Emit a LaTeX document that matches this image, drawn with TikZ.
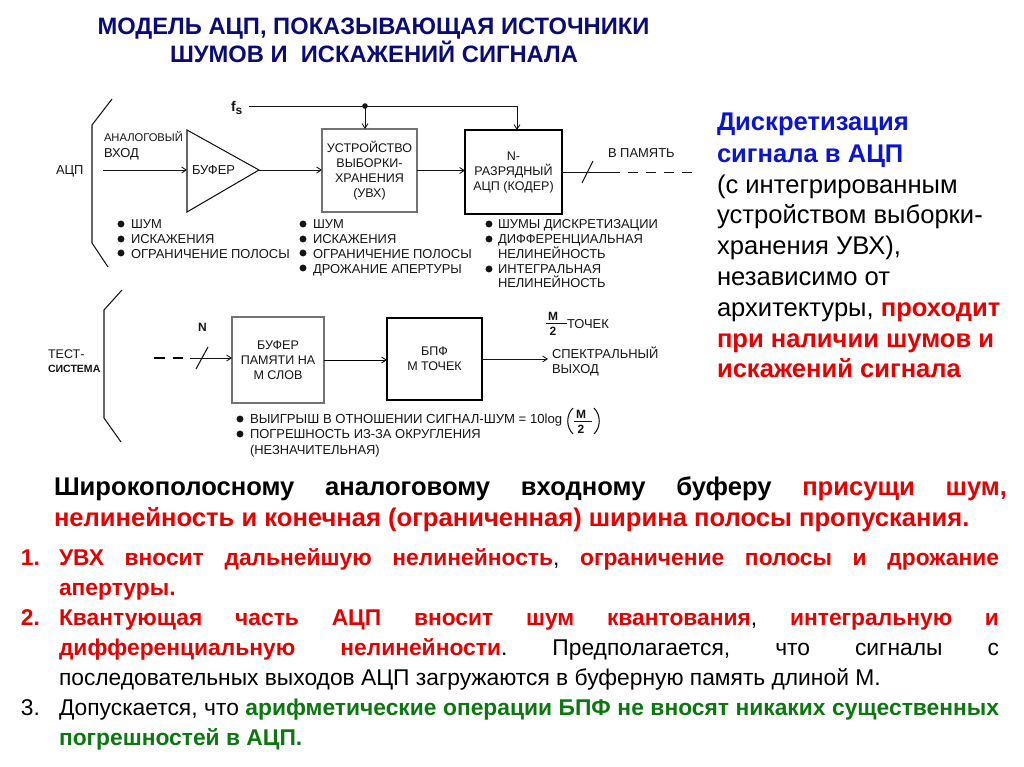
\documentclass[tikz,border=0pt]{standalone}
\usepackage{fontspec}
\setmainfont{Liberation Sans}
\usetikzlibrary{arrows.meta}
\AtBeginDocument{\frenchspacing}
\definecolor{navy}{HTML}{0A0A78}
\definecolor{rd}{HTML}{E60000}
\definecolor{bl}{HTML}{0A14D2}
\definecolor{gr}{HTML}{0A780F}
\definecolor{ink}{HTML}{141414}
\newcommand{\rb}[1]{{\bfseries\color{rd}#1}}
\newcommand{\gb}[1]{{\bfseries\color{gr}#1}}
\tikzset{
  txt/.style={anchor=base west,inner sep=0pt,outer sep=0pt},
  lab/.style={txt,text=ink,font=\fontsize{9.7pt}{11.25pt}\selectfont},
  labc/.style={lab,anchor=base},
  blk/.style={draw=#1,line width=0.8pt,fill=white,text=ink,align=center,inner sep=0pt,outer sep=0pt,font=\fontsize{9.4pt}{11.25pt}\selectfont},
  wire/.style={draw=ink,line width=0.65pt},
  arr/.style={wire,-{Straight Barb[length=3.5pt,width=4.5pt]}},
  brace/.style={draw=ink,line width=0.8pt},
  ttl/.style={anchor=base,inner sep=0pt,text=navy,font=\fontsize{17.8pt}{21pt}\selectfont\bfseries},
  rt/.style={txt,font=\fontsize{19.2pt}{23pt}\selectfont},
  rtb/.style={txt,text=bl,font=\fontsize{19.2pt}{23pt}\selectfont\bfseries},
  par1/.style={txt,font=\fontsize{19.2pt}{23pt}\selectfont},
  par2/.style={txt,text=rd,font=\fontsize{19.2pt}{23pt}\selectfont\bfseries},
  lst/.style={txt,font=\fontsize{17.1pt}{21pt}\selectfont},
  lstn/.style={txt,text=rd,font=\fontsize{17.1pt}{21pt}\selectfont\bfseries},
}
\begin{document}
\begin{tikzpicture}[x=0.75pt,y=-0.75pt]
\useasboundingbox (0,0) rectangle (1024,767);
% title
\node[ttl] (t1) at (373.5,35) {МОДЕЛЬ АЦП, ПОКАЗЫВАЮЩАЯ ИСТОЧНИКИ};
\node[ttl] (t2) at (374,63) {ШУМОВ И\ \ ИСКАЖЕНИЙ СИГНАЛА};
% brackets
\draw[brace] (112,99) -- (92,125) -- (92,243) -- (108,267);
\draw[brace] (122,290) -- (104,310) -- (104,418) -- (121,442);
% upper chain
\coordinate (inL) at (103,170);
\coordinate (bufW) at (187,170);
\coordinate (bufTip) at (259,170);
\draw[brace,fill=white] (187,130) -- (bufTip) -- (187,212) -- cycle;
\node[blk=gray!90!black] (uvx) at (369.5,170.5) [minimum width=71.25pt,minimum height=62.25pt] {УСТРОЙСТВО\\ВЫБОРКИ-\\ХРАНЕНИЯ\\(УВХ)};
\node[blk=black,line width=1.1pt] (adc) at (513.5,172) [minimum width=72.75pt,minimum height=63pt] {N-\\РАЗРЯДНЫЙ\\АЦП (КОДЕР)};
\coordinate (fsL) at (249,106);
\coordinate (fsDot) at (365,106);
\coordinate (fsR) at (517,106);
\draw[wire] (fsL) -- (fsR);
\fill[ink] (fsDot) circle (2.1pt);
\draw[arr] (fsDot) -- (fsDot |- uvx.north);
\draw[arr] (fsR) -- (fsR |- adc.north);
\draw[arr] (inL) -- (bufW);
\draw[arr] (bufTip) -- (bufTip -| uvx.west);
\draw[arr] (uvx.east) -- (uvx.east -| adc.west);
\coordinate (adcOut) at (610,172);
\coordinate (memEnd) at (697,172);
\draw[wire] (adc.east) -- (adcOut);
\draw[wire,dash pattern=on 7.5pt off 6pt] (adcOut) -- (memEnd);
\coordinate (s1a) at (582,183); \coordinate (s1b) at (593,161);
\draw[brace] (s1a) -- (s1b);
% upper labels
\node[lab,font=\fontsize{8.4pt}{11pt}\selectfont] (l1) at (104,141) {АНАЛОГОВЫЙ};
\node[lab] (l2) at (104,157) {ВХОД};
\node[lab] (l3) at (56,174) {АЦП};
\node[lab] (l4) at (192,174) {БУФЕР};
\node[lab,font=\fontsize{10.5pt}{12pt}\selectfont\bfseries] (l5) at (231,112) {f\raisebox{-2pt}{\fontsize{9pt}{10pt}\selectfont s}};
\node[lab] (l6) at (608,157) {В ПАМЯТЬ};
% bullets
\foreach \x/\y in {121/224,121/239,121/253,303/224,303/239,303/253,303/268,489/224,489/239,489/269,240/419,240/434}
  \fill[ink] (\x,\y) circle (2.6pt);
\node[lab] (a1) at (131,228) {ШУМ};
\node[lab] (a2) at (131,243) {ИСКАЖЕНИЯ};
\node[lab] (a3) at (131,258) {ОГРАНИЧЕНИЕ ПОЛОСЫ};
\node[lab] (b1) at (313,228) {ШУМ};
\node[lab] (b2) at (313,243) {ИСКАЖЕНИЯ};
\node[lab] (b3) at (313,258) {ОГРАНИЧЕНИЕ ПОЛОСЫ};
\node[lab] (b4) at (313,273) {ДРОЖАНИЕ АПЕРТУРЫ};
\node[lab] (c1) at (498,228) {ШУМЫ ДИСКРЕТИЗАЦИИ};
\node[lab] (c2) at (498,243) {ДИФФЕРЕНЦИАЛЬНАЯ};
\node[lab] (c3) at (498,258) {НЕЛИНЕЙНОСТЬ};
\node[lab] (c4) at (498,273) {ИНТЕГРАЛЬНАЯ};
\node[lab] (c5) at (498,287) {НЕЛИНЕЙНОСТЬ};
% lower chain
\node[blk=gray!90!black] (mem) at (278,360) [minimum width=69pt,minimum height=64.5pt] {БУФЕР\\ПАМЯТИ НА\\М СЛОВ};
\node[blk=black] (fft) at (434.5,359) [minimum width=71.25pt,minimum height=61.5pt] {БПФ\\М ТОЧЕК};
\coordinate (dashL) at (154,358);
\coordinate (dashR) at (186,358);
\coordinate (inM) at (190,358);
\draw[draw=black,line width=1.4pt,dash pattern=on 8pt off 6pt] (dashL) -- (dashR);
\draw[arr] (inM) -- (inM -| mem.west);
\coordinate (s2a) at (196,369); \coordinate (s2b) at (208,347);
\draw[brace] (s2a) -- (s2b);
\draw[arr,draw=black] (mem.east) -- (mem.east -| fft.west);
\coordinate (specOut) at (548,359);
\draw[arr] (fft.east) -- (specOut);
% lower labels
\node[lab,font=\fontsize{9.4pt}{11pt}\selectfont] (d1) at (48,358) {ТЕСТ-};
\node[lab,font=\fontsize{7.9pt}{11pt}\selectfont\bfseries] (d2) at (48,372) {СИСТЕМА};
\node[lab,font=\fontsize{9pt}{11pt}\selectfont\bfseries] (d3) at (198,331) {N};
\node[labc,font=\fontsize{9pt}{11pt}\selectfont\bfseries] (m1) at (553,320) {M};
\coordinate (fr1a) at (546,323); \coordinate (fr1b) at (567,323);
\draw[wire] (fr1a) -- (fr1b);
\node[labc,font=\fontsize{9pt}{11pt}\selectfont\bfseries] (m2) at (553,335) {2};
\node[lab] (m3) at (567,328) {ТОЧЕК};
\node[lab] (e1) at (552,358) {СПЕКТРАЛЬНЫЙ};
\node[lab] (e2) at (552,373) {ВЫХОД};
\node[lab,font=\fontsize{9.85pt}{11pt}\selectfont] (f1) at (250,423) {ВЫИГРЫШ В ОТНОШЕНИИ СИГНАЛ-ШУМ = 10log};
\node[lab] (f2) at (250,438) {ПОГРЕШНОСТЬ ИЗ-ЗА ОКРУГЛЕНИЯ};
\node[lab] (f3) at (250,454) {(НЕЗНАЧИТЕЛЬНАЯ)};
\node[labc,font=\fontsize{9pt}{11pt}\selectfont\bfseries] (g1) at (581,418) {M};
\coordinate (fr2a) at (574,421); \coordinate (fr2b) at (592,421);
\draw[wire] (fr2a) -- (fr2b);
\node[labc,font=\fontsize{9pt}{11pt}\selectfont\bfseries] (g2) at (581,433) {2};
\draw[brace] (573,408) .. controls (566,415) and (566,427) .. (573,434);
\draw[brace] (594,408) .. controls (601,415) and (601,427) .. (594,434);
% right column
\node[rtb] (r1) at (717,130.5) {Дискретизация};
\node[rtb] (r2) at (717,162) {сигнала в АЦП};
\node[rt] (r3) at (717,193) {(с интегрированным};
\node[rt] (r4) at (717,223) {устройством выборки-};
\node[rt] (r5) at (717,254) {хранения УВХ),};
\node[rt] (r6) at (717,285) {независимо от};
\node[rt] (r7) at (717,316) {архитектуры, \rb{проходит}};
\node[rt] (r8) at (717,347) {\rb{при наличии шумов и}};
\node[rt] (r9) at (717,377.5) {\rb{искажений сигнала}};
% paragraph
\node[par1] (p1) at (54,495) {\makebox[714.75pt][s]{\bfseries Широкополосному аналоговому входному буферу \rb{присущи шум,}}};
\node[par2] (p2) at (54,526) {нелинейность и конечная (ограниченная) ширина полосы пропускания.};
% list
\node[lstn] (n1) at (21,565) {1.};
\node[lst] (q1) at (59,565) {\makebox[705pt][s]{\rb{УВХ вносит дальнейшую нелинейность}, \rb{ограничение полосы и дрожание}}};
\node[lst] (q2) at (59,595) {\rb{апертуры.}};
\node[lstn] (n2) at (21,625) {2.};
\node[lst] (q3) at (59,625) {\makebox[705pt][s]{\rb{Квантующая часть АЦП вносит шум квантования}, \rb{интегральную и}}};
\node[lst] (q4) at (59,655) {\makebox[705pt][s]{\rb{дифференциальную нелинейности}. Предполагается, что сигналы с}};
\node[lst] (q5) at (59,685) {последовательных выходов АЦП загружаются в буферную память длиной М.};
\node[lst] (n3) at (21,715) {3.};
\node[lst] (q6) at (59,715) {\makebox[705pt][s]{Допускается, что \gb{арифметические операции БПФ не вносят никаких существенных}}};
\node[lst] (q7) at (59,745) {\gb{погрешностей в АЦП.}};
\end{tikzpicture}
\end{document}
